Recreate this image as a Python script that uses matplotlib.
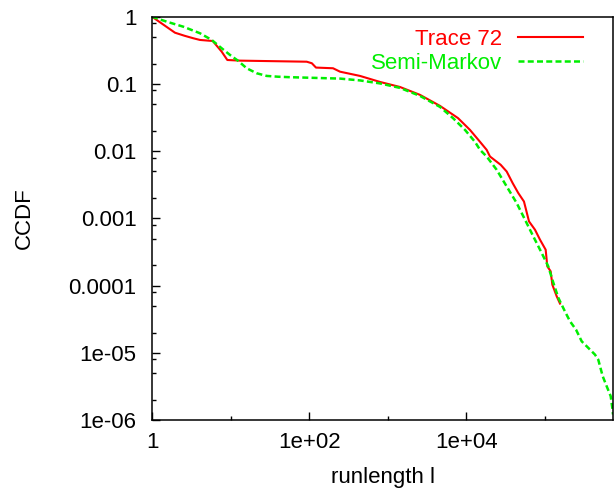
import matplotlib
matplotlib.use("Agg")
import matplotlib.pyplot as plt
from matplotlib.ticker import FixedLocator, NullFormatter

plt.rcParams['font.family'] = ['Liberation Sans', 'DejaVu Sans']

# Trace 72 (red)
trace_x = [1, 1.4, 1.96, 2.6, 3.35, 4.08, 5.92, 7.7, 9.08, 13.2, 93, 108, 122, 201, 247,
           443, 796, 1430, 2570, 4615, 7820, 11100, 14900, 18100, 19950, 27300,
           32560, 38800, 45700, 54000, 62600, 74600, 86400, 102000, 107000,
           118000, 124000, 141000, 155000]
trace_y = [1, 0.76, 0.578, 0.52, 0.478, 0.451, 0.435, 0.302, 0.227, 0.222, 0.214, 0.203,
           0.175, 0.171, 0.152, 0.1315, 0.107, 0.090, 0.0687, 0.0471, 0.031,
           0.0207, 0.01375, 0.01045, 0.00832, 0.00626, 0.00497, 0.00334,
           0.00238, 0.00178, 0.0009, 0.000677, 0.000481, 0.000341, 0.000193,
           0.000163, 0.000103, 6.9e-5, 5.4e-5]

# Semi-Markov (green)
sm_x = [1, 1.54, 2.50, 4.08, 5.75, 7.7, 9.82, 12.5, 16.0, 21.5, 28.8, 40, 57, 247,
        443, 796, 1430, 2570, 4615, 6750, 9600, 12850, 14900, 18100, 24300,
        32560, 43600, 55700, 71000, 90800, 110000, 128000, 148000, 179000,
        208000, 248000, 293000, 339000, 432000, 476000, 542000, 609000,
        685000, 718000, 733000]
sm_y = [1, 0.843, 0.710, 0.567, 0.451, 0.339, 0.270, 0.220, 0.171, 0.144,
        0.1315, 0.128, 0.1259, 0.120, 0.1127, 0.1017, 0.0872, 0.0663, 0.0455, 0.031,
        0.0207, 0.01375, 0.01045, 0.00832, 0.00527, 0.00298, 0.00169,
        0.000953, 0.000538, 0.000305, 0.000193, 0.000109, 6.55e-5, 4.14e-5,
        2.94e-5, 2.21e-5, 1.48e-5, 1.25e-5, 9.4e-6, 7.9e-6, 4.48e-6, 3.18e-6,
        2.26e-6, 1.52e-6, 1.21e-6]

x_major = [1, 1e2, 1e4]
x_major_labels = ['1', '1e+02', '1e+04']
x_minor = [10, 1e3, 1e5]
y_major = [1, 0.1, 0.01, 0.001, 1e-4, 1e-5, 1e-6]
y_major_labels = ['1', '0.1', '0.01', '0.001', '0.0001', '1e-05', '1e-06']
y_minor = [m * d for d in [1e-6, 1e-5, 1e-4, 1e-3, 1e-2, 1e-1] for m in (2, 5, 8)]

RED = '#ff0000'
GREEN = '#00ee00'
FS = 16

fig = plt.figure(figsize=(6.14, 4.93), dpi=100)
ax = fig.add_axes([152/614, (493-420)/493, (613-152)/614, (420-16.7)/493])

ax.plot(trace_x, trace_y, color=RED, lw=1.5)
ax.plot(sm_x, sm_y, color=GREEN, lw=1.8, dashes=(2.4, 1.3))

ax.set_xscale('log')
ax.set_yscale('log')
ax.set_xlim(1, 7.33e5)
ax.set_ylim(1e-6, 1)

ax.xaxis.set_major_locator(FixedLocator(x_major))
ax.set_xticklabels(x_major_labels)
ax.xaxis.set_minor_locator(FixedLocator(x_minor))
ax.xaxis.set_minor_formatter(NullFormatter())
ax.yaxis.set_major_locator(FixedLocator(y_major))
ax.set_yticklabels(y_major_labels)
ax.yaxis.set_minor_locator(FixedLocator(y_minor))
ax.yaxis.set_minor_formatter(NullFormatter())

ax.tick_params(which='both', direction='in', top=False, right=False, width=1.0,
               labelsize=FS)
ax.tick_params(which='major', length=5.8)
ax.tick_params(which='minor', length=2.9)
ax.tick_params(axis='x', which='major', pad=9)
ax.tick_params(axis='y', which='major', pad=11)
for s in ax.spines.values():
    s.set_linewidth(1.1)

fig.text(382.5/614, 1 - 478/493, 'runlength l', ha='center', va='center', fontsize=FS)
fig.text(24/614, 1 - 218.4/493, 'CCDF', ha='center', va='center', rotation=90, fontsize=FS)

# legend (gnuplot style: right-aligned text, sample on the right)
lx0, lx1 = (518-152)/461, (583-152)/461
tx = (502-152)/461
ly1, ly2 = (420-37)/403.3, (420-61)/403.3
ax.plot([lx0, lx1], [ly1, ly1], transform=ax.transAxes, color=RED, lw=1.5, clip_on=False)
ax.plot([lx0, lx1], [ly2, ly2], transform=ax.transAxes, color=GREEN, lw=1.8,
        dashes=(2.4, 1.3), clip_on=False)
ax.text(tx, ly1, 'Trace 72', transform=ax.transAxes, ha='right', va='center_baseline',
        color=RED, fontsize=FS)
ax.text(tx, ly2, 'Semi-Markov', transform=ax.transAxes, ha='right', va='center_baseline',
        color=GREEN, fontsize=FS)

fig.savefig('out.png', dpi=100)
